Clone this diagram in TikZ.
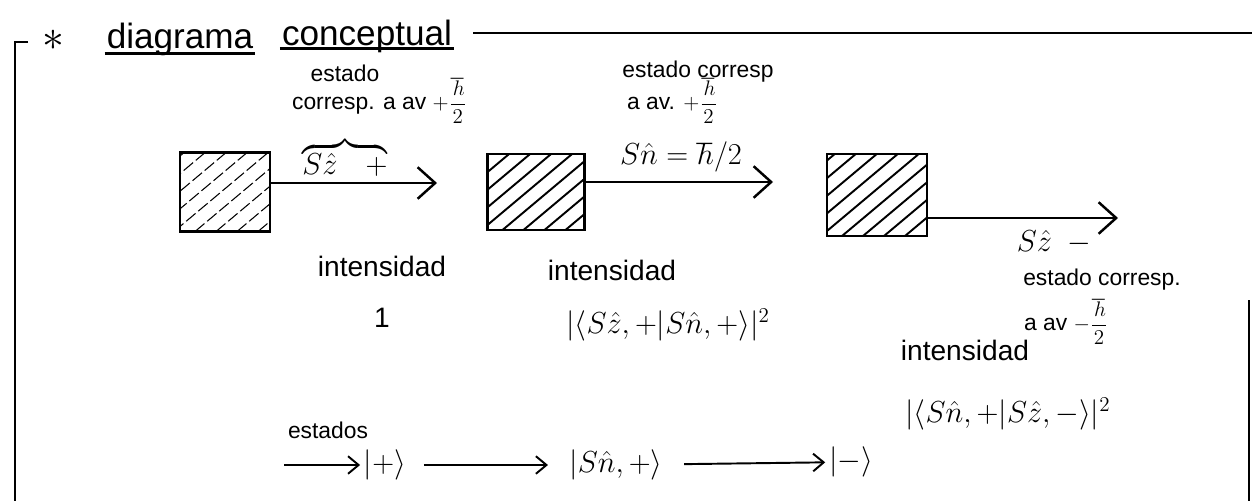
\documentclass[tikz,border=0pt]{standalone}
\usepackage{amsmath,amssymb}
\usepackage{fontspec}
\setmainfont{Liberation Sans}
\usepackage{tikz}
\usetikzlibrary{arrows.meta,positioning,calc}

\begin{document}
\begin{tikzpicture}[x=0.02cm, y=-0.02cm,
    rule/.style={line width=1.6pt},
    hatchline/.style={line width=1.1pt},
    filt/.style={rectangle, draw, line width=1.5pt, minimum width=1.8cm, minimum height=1.58cm, inner sep=0pt,
        path picture={\foreach \d in {-1.8,-1.38,...,1.6}
            \draw[hatchline] ([xshift=\d cm]path picture bounding box.south west) -- ++(40:3.4cm);}},
    beam/.style={line width=1.4pt, -{Straight Barb[length=10pt,width=18pt,line width=1.4pt]}},
    flow/.style={line width=1.1pt, -{Straight Barb[length=6pt,width=10pt,line width=1.1pt]}},
    title/.style={font=\fontsize{20}{24}\selectfont, inner sep=1pt},
    note/.style={font=\fontsize{13}{15}\selectfont, inner sep=1pt},
    word/.style={font=\fontsize{16}{19}\selectfont, inner sep=1pt},
    amp/.style={font=\fontsize{17}{20}\selectfont, inner sep=1pt},
    ket/.style={font=\fontsize{19}{22}\selectfont, inner sep=2pt}
]
\useasboundingbox (0,0) rectangle (1252,501);

% heading and frame
\node[font=\fontsize{30}{30}\selectfont, inner sep=0pt] (star) at (53,40) {$\ast$};
\node[title, anchor=base] (diag) at (180,48) {diagrama};
\node[title, anchor=base] (concep) at (367,45) {conceptual};
\draw[rule] ([yshift=-3pt]diag.base west) -- ([yshift=-3pt]diag.base east);
\draw[rule] ([yshift=-2pt]concep.base west) -- ([yshift=-2pt]concep.base east);
\coordinate (ruleL) at (473,33);
\coordinate (ruleR) at (1252,33);
\draw[rule] (ruleL) -- (ruleR);
\draw[rule] (28,42) -- (15,42) -- (15,501);
\draw[rule] (1249,300) -- (1249,501);

% filters
\node[filt, hatchline/.style={line width=0.6pt, dash pattern=on 7pt off 2pt}] (pol1) at (225,192) {};
\node[filt, minimum width=1.94cm, minimum height=1.52cm] (pol2) at (536,192) {};
\node[filt, minimum width=2cm, minimum height=1.64cm] (pol3) at (877,195) {};

\coordinate (tip1) at (437,183);
\coordinate (tip2) at (773,182);
\coordinate (tip3) at (1118,218);
\draw[beam] (pol1.east |- tip1) -- (tip1);
\draw[beam] (pol2.east |- tip2) -- (tip2);
\draw[beam] (pol3.east |- tip3) -- (tip3);

% beam labels
\node[note] (est1) at (345,73) {estado};
\node[note, anchor=west] (cor1) at (290,101) {corresp. a av $+\dfrac{\hbar}{2}$};
\node[word] (sz1) at (345,158) {$\overbrace{S\hat{z}\quad+}$};
\node[note] (est2) at (698,72) {estado corresp};
\node[note, anchor=west] (cor2) at (625,101) {a av. $+\dfrac{\hbar}{2}$};
\node[word] (sn2) at (681,157) {$S\hat{n}=\hbar/2$};
\node[word] (sz3) at (1054,242) {$S\hat{z}$\ \ $-$};
\node[note] (est3) at (1102,280) {estado corresp.};
\node[note, anchor=west] (cor3) at (1022,322) {a av $-\dfrac{\hbar}{2}$};

% intensities
\node[word] (int1) at (382,266) {intensidad};
\node[word, below=0.55cm of int1] (one) {1};
\node[word] (int2) at (612,270) {intensidad};
\node[amp] (amp2) at (668,325) {$|\langle S\hat{z},+|S\hat{n},+\rangle|^2$};
\node[word] (int3) at (965,350) {intensidad};
\node[amp] (amp3) at (1008,414) {$|\langle S\hat{n},+|S\hat{z},-\rangle|^2$};

% states
\node[note] (sts) at (328,430) {estados};
\node[ket] (kp) at (385,465) {$|+\rangle$};
\node[ket] (kn) at (616,465) {$|S\hat{n},+\rangle$};
\node[ket] (km) at (851,462) {$|-\rangle$};
\coordinate (src) at (284,465);
\draw[flow] (src) -- (kp);
\draw[flow, shorten <=8pt, shorten >=10pt] (kp) -- (kn);
\draw[flow, shorten <=10pt] (kn) -- (km);

\end{tikzpicture}
\end{document}
